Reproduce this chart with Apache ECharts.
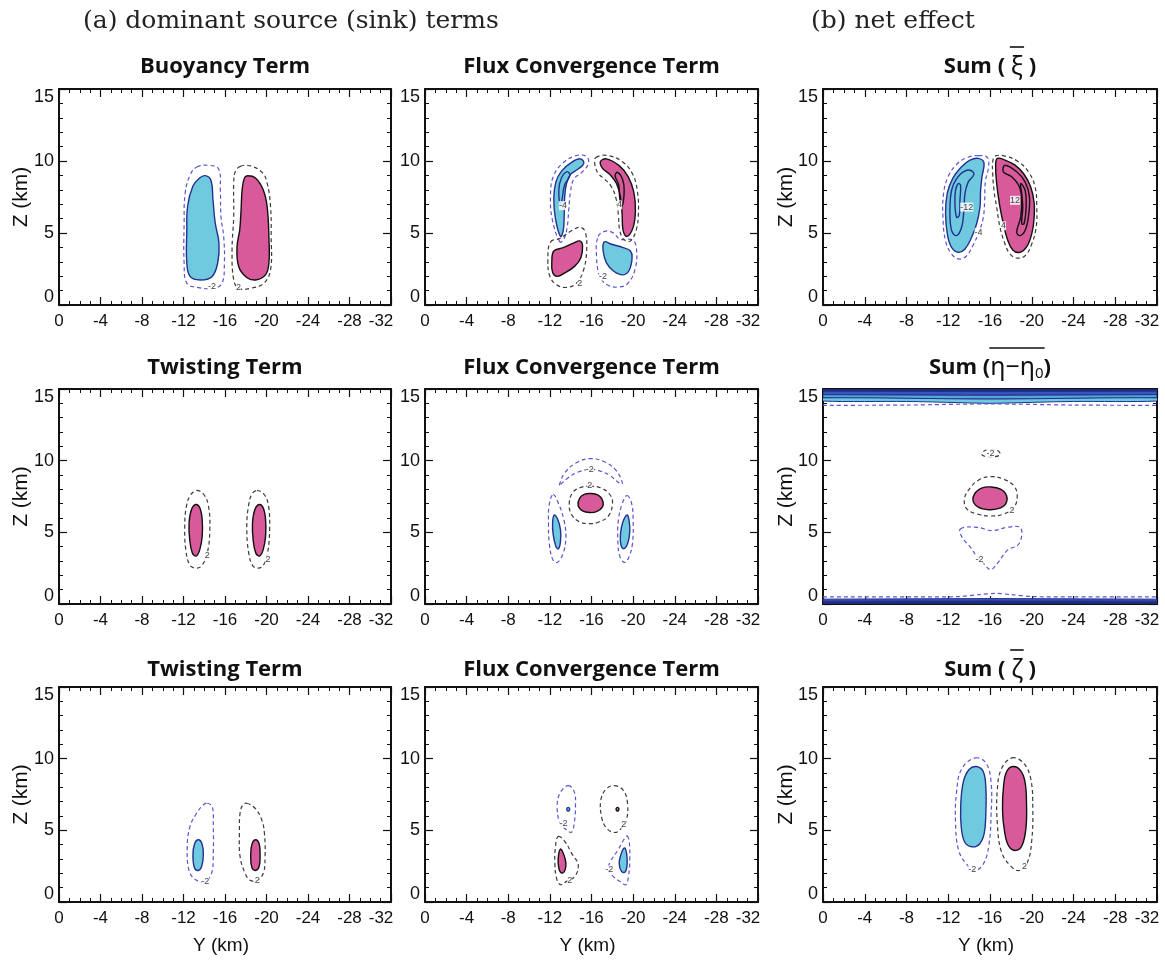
<!DOCTYPE html>
<html>
<head>
<meta charset="utf-8">
<script src="https://cdn.jsdelivr.net/npm/echarts@6/dist/echarts.min.js"></script>
<style>
html, body { margin: 0; padding: 0; background: #fff; }
#main { width: 1165px; height: 963px; }
</style>
</head>
<body>
<div id="main"></div>
<script>
// ---- axes -------------------------------------------------------------
const yKmMin = -32, yKmMax = 0, yKmStep = 4;   // horizontal axis (Y, km)
const zKmMin = 0, zKmMax = 15, zKmStep = 5;    // vertical axis (Z, km)

// ---- panel titles -----------------------------------------------------
const plainTitles = ['Buoyancy Term', 'Flux Convergence Term', 'Twisting Term',
                     'Flux Convergence Term', 'Twisting Term', 'Flux Convergence Term'];
const headerLeft = '(a) dominant source (sink) terms';
const headerRight = '(b) net effect';

// ---- contour outlines, [Y km, Z km] ------------------------------------
// Buoyancy term
const a1NegFill = [[-14.1,8.98],[-14.65,8.65],[-14.84,7.31],[-15.06,5.68],[-15.42,4.29],[-15.29,2.9],[-14.74,1.97],[-13.61,1.74],[-12.65,1.97],[-12.32,2.9],[-12.32,5.22],[-12.39,6.84],[-12.9,8.24],[-13.55,8.82]];
const a1NegDash = [[-13.29,9.58],[-14.42,9.7],[-15.39,9.44],[-15.55,8.0],[-15.61,6.15],[-15.87,4.76],[-15.94,2.9],[-15.71,1.51],[-14.9,1.16],[-13.29,1.23],[-12.32,1.51],[-12.06,2.9],[-12.06,5.68],[-12.16,7.77],[-12.65,9.05]];
const a1PosFill = [[-18.19,8.98],[-18.94,8.82],[-19.68,8.0],[-20.06,6.84],[-20.23,4.76],[-20.23,2.9],[-19.9,2.09],[-18.94,1.74],[-18.06,1.93],[-17.32,2.67],[-17.16,4.06],[-17.42,5.22],[-17.55,6.61],[-17.65,8.0],[-17.87,8.82]];
const a1PosDash = [[-17.48,9.63],[-18.39,9.67],[-19.58,9.21],[-20.06,8.47],[-20.39,6.84],[-20.45,4.76],[-20.39,2.44],[-19.74,1.51],[-18.45,1.16],[-17.32,1.16],[-16.84,1.74],[-16.68,3.83],[-16.84,6.15],[-16.84,8.47],[-17.0,9.28]];
const a1Labels = [[-14.74,1.25,'-2'],[-17.3,1.2,'2']];

// Flux convergence term (top row)
const a2NegUpFill = [[-13.02,4.76],[-12.54,5.98],[-12.38,7.38],[-12.58,8.55],[-13.12,9.3],[-14.08,9.91],[-14.94,10.15],[-15.26,9.84],[-14.72,9.44],[-13.98,9.07],[-13.6,8.44],[-13.41,7.38],[-13.38,6.21],[-13.28,5.16]];
const a2NegUpCore = [[-13.02,6.91],[-12.86,7.97],[-13.09,8.79],[-13.66,9.26],[-13.92,8.98],[-13.41,8.32],[-13.18,7.38]];
const a2NegUpDash = [[-12.96,4.38],[-12.22,5.98],[-12.06,7.62],[-12.32,8.91],[-13.22,9.84],[-14.56,10.38],[-15.52,10.31],[-15.71,9.84],[-15.14,9.26],[-14.3,8.74],[-13.98,7.85],[-13.82,6.68],[-13.66,5.39],[-13.34,4.57]];
const a2PosUpFill = [[-16.86,9.96],[-17.44,10.15],[-18.66,9.68],[-19.52,8.91],[-20.06,7.85],[-20.22,6.56],[-20.0,5.39],[-19.42,4.76],[-19.04,5.16],[-18.94,6.33],[-18.78,7.5],[-18.4,8.44],[-17.76,9.07],[-17.06,9.49]];
const a2PosUpCore = [[-18.94,6.87],[-19.14,7.97],[-18.98,8.74],[-18.5,9.21],[-18.27,8.98],[-18.62,8.32],[-18.72,7.38]];
const a2PosUpDash = [[-16.42,10.24],[-17.6,10.38],[-19.04,9.91],[-20.0,9.02],[-20.42,7.85],[-20.51,6.44],[-20.32,5.27],[-19.74,4.45],[-19.14,4.52],[-18.72,5.16],[-18.59,6.21],[-18.4,7.27],[-17.92,8.2],[-17.18,8.79],[-16.64,9.14],[-16.32,9.77]];
const a2PosLowFill = [[-12.38,3.75],[-13.28,3.98],[-14.24,4.29],[-14.88,4.45],[-15.14,4.1],[-14.98,3.28],[-14.4,2.7],[-13.44,2.23],[-12.7,1.99],[-12.26,2.27],[-12.19,3.05]];
const a2PosLowDash = [[-12.06,4.38],[-12.96,4.62],[-14.08,5.16],[-14.94,5.39],[-15.42,5.04],[-15.52,3.63],[-15.2,2.34],[-14.56,1.52],[-13.6,1.22],[-12.64,1.41],[-12.0,1.99],[-11.81,3.16]];
const a2NegLowFill = [[-17.22,4.38],[-17.92,4.22],[-19.04,3.98],[-19.74,3.75],[-19.9,3.28],[-19.62,2.41],[-19.04,2.09],[-18.14,2.34],[-17.44,2.93],[-17.12,3.75]];
const a2NegLowDash = [[-16.64,4.76],[-17.38,5.13],[-18.14,4.99],[-18.72,4.57],[-19.94,4.52],[-20.32,3.91],[-20.22,2.58],[-19.52,1.52],[-18.56,1.24],[-17.5,1.41],[-16.8,1.99],[-16.48,3.4]];
const a2Labels = [[-13.25,6.9,'-4'],[-18.7,6.95,'4'],[-14.88,1.5,'2'],[-17.1,2.0,'-2']];

// Sum of xi tendencies
const b1NegFill = [[-14.88,10.18],[-15.42,9.88],[-15.23,8.9],[-15.1,7.97],[-15.04,6.8],[-14.72,5.64],[-14.24,4.71],[-13.6,3.89],[-12.96,3.66],[-12.32,4.01],[-11.94,4.82],[-11.74,6.34],[-11.9,7.73],[-12.42,8.78],[-13.28,9.6],[-14.08,10.06]];
const b1NegC8 = [[-14.08,9.36],[-14.46,9.08],[-13.92,8.55],[-13.6,7.73],[-13.5,6.57],[-13.28,5.4],[-12.8,4.82],[-12.32,5.17],[-12.16,6.57],[-12.32,7.97],[-12.8,8.78],[-13.44,9.25]];
const b1NegC12 = [[-12.96,8.43],[-13.18,8.32],[-13.12,7.27],[-13.06,6.22],[-12.8,6.1],[-12.64,7.04],[-12.7,7.97]];
const b1NegDash = [[-14.88,10.37],[-15.74,10.25],[-15.87,9.64],[-15.55,8.55],[-15.49,7.27],[-15.36,6.1],[-14.98,5.12],[-14.4,4.19],[-13.76,3.42],[-13.06,3.19],[-12.32,3.54],[-11.74,4.47],[-11.49,6.1],[-11.55,7.73],[-12.0,8.94],[-12.8,9.76],[-13.82,10.25]];
const b1PosFill = [[-16.7,10.18],[-17.44,10.06],[-18.4,9.71],[-19.26,9.08],[-19.9,8.2],[-20.22,7.15],[-20.22,5.99],[-20.0,4.94],[-19.52,4.05],[-18.88,3.66],[-18.18,3.82],[-17.66,4.59],[-17.28,5.64],[-16.9,7.03],[-16.64,8.43],[-16.54,9.71]];
const b1PosC8 = [[-17.44,9.71],[-18.56,9.25],[-19.36,8.55],[-19.78,7.5],[-19.68,6.1],[-19.36,5.17],[-18.88,4.82],[-18.56,5.05],[-18.94,6.1],[-19.04,7.27],[-18.82,8.2],[-18.08,8.9],[-17.28,9.25]];
const b1PosC12 = [[-18.94,8.43],[-19.36,7.97],[-19.46,6.8],[-19.26,5.64],[-19.04,5.64],[-19.14,6.8],[-19.04,7.73]];
const b1PosDash = [[-16.48,10.34],[-17.44,10.34],[-18.72,9.95],[-19.68,9.25],[-20.32,8.2],[-20.48,6.8],[-20.42,5.4],[-20.0,4.24],[-19.36,3.42],[-18.62,3.26],[-17.92,3.54],[-17.44,4.24],[-16.96,5.4],[-16.64,6.8],[-16.38,7.97],[-16.26,9.13],[-16.26,9.95]];
const b1Labels = [[-13.78,6.8,'-12'],[-14.9,5.05,'-4'],[-18.4,7.27,'12'],[-17.3,5.5,'4']];

// Twisting term (middle row)
const a3PosFillL = [[-13.19,6.94],[-13.57,6.71],[-13.8,5.89],[-13.8,4.72],[-13.57,3.79],[-13.25,3.36],[-12.86,3.55],[-12.6,4.49],[-12.54,5.65],[-12.77,6.59]];
const a3PosDashL = [[-13.25,7.92],[-13.96,7.64],[-14.41,6.82],[-14.54,5.19],[-14.29,3.55],[-13.74,2.66],[-13.19,2.5],[-12.6,2.73],[-12.22,3.79],[-12.12,5.42],[-12.28,6.82],[-12.67,7.59]];
const a3PosFillR = [[-19.3,6.94],[-19.68,6.71],[-19.91,5.89],[-19.91,4.72],[-19.68,3.79],[-19.36,3.36],[-18.97,3.55],[-18.71,4.49],[-18.65,5.65],[-18.88,6.59]];
const a3PosDashR = [[-19.07,7.92],[-19.78,7.64],[-20.2,6.82],[-20.3,5.19],[-20.1,3.55],[-19.72,2.73],[-19.23,2.5],[-18.68,2.66],[-18.26,3.67],[-18.1,5.42],[-18.26,6.82],[-18.58,7.64]];
const a3Labels = [[-14.3,3.35,'2'],[-20.15,3.1,'2']];

// Flux convergence term (middle row)
const a4PosFill = [[-15.9,7.71],[-16.64,7.59],[-17.06,7.24],[-17.06,6.78],[-16.48,6.45],[-15.84,6.38],[-15.14,6.5],[-14.72,6.87],[-14.88,7.41],[-15.36,7.66]];
const a4PosDash = [[-15.84,8.22],[-16.96,8.08],[-17.76,7.64],[-18.02,7.01],[-17.6,6.12],[-16.64,5.7],[-15.84,5.61],[-14.88,5.72],[-14.08,6.24],[-13.86,7.01],[-14.18,7.76],[-14.88,8.11]];
const a4NegArc = [[-12.9,8.29],[-13.44,9.16],[-14.56,9.86],[-15.84,10.14],[-17.28,9.91],[-18.4,9.28],[-18.98,8.41],[-18.72,8.41],[-17.76,8.97],[-16.64,9.32],[-15.84,9.39],[-14.72,9.21],[-13.76,8.81],[-13.02,8.34]];
const a4NegFillL = [[-12.42,6.21],[-12.74,5.93],[-13.02,5.19],[-13.02,4.37],[-12.83,3.86],[-12.58,4.02],[-12.32,4.84],[-12.26,5.65]];
const a4NegDashL = [[-12.32,7.64],[-12.8,7.06],[-13.34,5.89],[-13.54,4.72],[-13.28,3.55],[-12.7,2.9],[-12.26,3.13],[-11.94,4.25],[-11.87,5.65],[-11.94,6.94]];
const a4NegFillR = [[-19.42,6.21],[-19.62,5.77],[-19.68,5.07],[-19.49,4.25],[-19.1,3.86],[-18.82,4.14],[-18.78,4.84],[-18.98,5.65]];
const a4NegDashR = [[-19.42,7.57],[-19.84,7.06],[-20.0,5.89],[-19.94,4.25],[-19.62,3.32],[-19.2,2.9],[-18.72,3.32],[-18.53,4.49],[-18.59,5.89],[-18.98,7.06]];
const a4Labels = [[-15.84,9.38,'-2'],[-15.84,8.24,'2']];

// Sum of eta - eta0 tendencies: bands along the top and bottom boundaries
const b2TopNavy = [[0,15],[-32,15],[-32,14.84],[-16,14.82],[0,14.84]];
const b2TopBlue = [[0,14.84],[-16,14.82],[-32,14.84],[-32,14.6],[-16,14.56],[0,14.6]];
const b2TopSky = [[0,14.6],[-16,14.56],[-32,14.6],[-32,14.38],[-16,14.3],[0,14.38]];
const b2TopCyan = [[0,14.38],[-16,14.3],[-32,14.38],[-32,14.16],[-24,14.13],[-19,14.05],[-16,14.0],[-13,14.05],[-8,14.13],[0,14.16]];
const b2TopDash = [[0,13.86],[-8,13.88],[-16,13.96],[-24,13.88],[-32,13.86]];
const b2BotNavy = [[0,0],[-32,0],[-32,0.2],[-16,0.22],[0,0.2]];
const b2BotBlue = [[0,0.2],[-16,0.22],[-32,0.2],[-32,0.34],[-16,0.38],[0,0.34]];
const b2BotDash = [[0,0.5],[-10,0.5],[-13,0.52],[-15,0.66],[-16.5,0.74],[-18,0.66],[-20,0.52],[-24,0.5],[-32,0.5]];
const b2PosFill = [[-16.05,8.17],[-17.01,8.01],[-17.59,7.55],[-17.49,6.97],[-16.85,6.67],[-15.89,6.58],[-14.92,6.74],[-14.38,7.2],[-14.61,7.78],[-15.25,8.1]];
const b2PosDash = [[-16.05,8.89],[-17.33,8.7],[-18.29,8.24],[-18.61,7.55],[-18.29,6.74],[-17.33,6.28],[-16.05,6.14],[-14.77,6.28],[-13.8,6.62],[-13.54,7.32],[-14.12,8.12],[-14.92,8.65]];
const b2PosRing = [[-15.4,10.66],[-16.05,10.78],[-16.82,10.66],[-16.95,10.39],[-16.05,10.27],[-15.25,10.39]];
const b2NegDash = [[-13.16,5.24],[-14.76,5.35],[-16.21,5.12],[-17.65,5.35],[-18.93,5.31],[-18.77,4.2],[-17.65,3.74],[-16.69,2.82],[-16.05,2.4],[-15.4,2.82],[-14.76,3.28],[-14.12,3.97],[-13.32,4.66]];
const b2Labels = [[-16.05,10.52,'-2'],[-18.1,6.55,'2'],[-15.0,3.1,'-2']];

// Twisting term (bottom row)
const a5NegFill = [[-13.43,4.34],[-13.78,4.06],[-13.91,3.29],[-13.75,2.48],[-13.39,2.2],[-13.04,2.43],[-12.91,3.29],[-13.07,4.06]];
const a5NegDash = [[-14.29,6.89],[-14.78,6.65],[-14.87,5.26],[-14.87,3.41],[-14.71,2.02],[-14.07,1.44],[-13.26,1.51],[-12.56,2.13],[-12.36,3.87],[-12.62,5.26],[-13.26,6.19],[-13.91,6.77]];
const a5PosFill = [[-18.96,4.34],[-19.29,4.06],[-19.38,3.29],[-19.29,2.48],[-18.93,2.2],[-18.58,2.43],[-18.48,3.29],[-18.61,4.06]];
const a5PosDash = [[-18.09,6.89],[-18.9,6.54],[-19.54,5.73],[-19.8,4.8],[-19.86,3.18],[-19.7,2.02],[-19.12,1.51],[-18.42,1.51],[-17.93,2.02],[-17.45,3.18],[-17.39,4.8],[-17.45,6.19],[-17.71,6.77]];
const a5Labels = [[-14.1,1.46,'-2'],[-19.1,1.5,'2']];

// Flux convergence term (bottom row)
const a6NegDashUp = [[-13.76,8.12],[-14.34,7.7],[-14.46,6.65],[-14.34,5.5],[-14.08,4.87],[-13.6,5.03],[-12.96,5.54],[-12.7,6.65],[-12.96,7.58]];
const a6NegDot = [[-13.76,6.6],[-13.9,6.47],[-13.76,6.34],[-13.62,6.47]];
const a6PosDashUp = [[-18.18,8.12],[-19.04,7.81],[-19.46,6.89],[-19.36,5.73],[-18.88,5.15],[-18.24,4.85],[-17.44,5.15],[-16.96,5.96],[-16.9,7.12],[-17.38,7.86]];
const a6PosDot = [[-18.5,6.6],[-18.64,6.47],[-18.5,6.34],[-18.36,6.47]];
const a6PosFill = [[-13.02,3.69],[-13.34,3.29],[-13.54,2.71],[-13.44,2.2],[-13.12,2.02],[-12.86,2.36],[-12.8,3.06]];
const a6PosDash = [[-12.8,4.57],[-13.44,4.22],[-14.08,3.41],[-14.72,2.6],[-14.4,1.79],[-13.6,1.44],[-13.02,1.21],[-12.64,1.67],[-12.48,2.71],[-12.54,3.87]];
const a6NegFill = [[-19.23,3.76],[-19.39,3.29],[-19.42,2.6],[-19.23,2.09],[-18.88,2.13],[-18.66,2.71],[-18.82,3.29],[-19.04,3.69]];
const a6NegDash = [[-19.42,4.61],[-19.62,4.22],[-19.68,2.94],[-19.55,1.79],[-19.3,1.21],[-18.72,1.44],[-18.08,1.79],[-17.6,2.25],[-17.82,2.83],[-18.56,3.64],[-19.1,4.34]];
const a6Labels = [[-13.3,5.5,'-2'],[-19.1,5.4,'2'],[-13.9,1.5,'2'],[-17.7,2.25,'-2']];

// Sum of zeta tendencies
const b3NegFill = [[-14.7,9.45],[-15.35,9.1],[-15.6,8.0],[-15.6,6.2],[-15.45,4.8],[-15.0,4.05],[-14.3,3.85],[-13.6,4.15],[-13.25,5.2],[-13.2,6.8],[-13.45,8.4],[-14.0,9.25]];
const b3NegDash = [[-14.6,10.05],[-15.6,9.7],[-16.1,8.4],[-16.1,6.0],[-15.9,4.0],[-15.4,2.7],[-14.6,2.2],[-13.8,2.6],[-13.0,3.6],[-12.7,5.5],[-12.8,7.7],[-13.3,9.3]];
const b3PosFill = [[-18.2,9.45],[-18.9,9.2],[-19.35,8.4],[-19.5,6.8],[-19.45,5.2],[-19.1,4.0],[-18.5,3.6],[-17.8,3.9],[-17.4,4.9],[-17.2,6.4],[-17.3,8.1],[-17.6,9.1]];
const b3PosDash = [[-18.1,10.05],[-19.2,9.7],[-19.9,8.6],[-20.1,6.5],[-20.0,4.3],[-19.6,2.8],[-18.8,2.2],[-18.0,2.5],[-17.1,3.5],[-16.7,5.5],[-16.7,7.8],[-17.1,9.3]];
const b3Labels = [[-14.3,2.3,'-2'],[-19.3,2.5,'2']];

// ---- styles -----------------------------------------------------------
const CYAN = '#6fcae0', MAGENTA = '#d85a9b', NAVY = '#23318f', INK = '#111';
const DASH_NEG = '#5a55d2', DASH_POS = '#3b3b3b';
const STYLE = {
  negFill: { fill: CYAN, stroke: NAVY, lineWidth: 1.4 },
  posFill: { fill: MAGENTA, stroke: INK, lineWidth: 1.4 },
  negLine: { fill: null, stroke: NAVY, lineWidth: 1.4 },
  posLine: { fill: null, stroke: INK, lineWidth: 1.4 },
  negDash: { fill: null, stroke: DASH_NEG, lineWidth: 1.2, lineDash: [4, 3] },
  posDash: { fill: null, stroke: DASH_POS, lineWidth: 1.2, lineDash: [4, 3] },
  bandNavy: { fill: '#1d2b7c', stroke: '#1d2b7c', lineWidth: 0.8 },
  bandBlue: { fill: '#3656bb', stroke: '#22318f', lineWidth: 1 },
  bandSky: { fill: '#56a6dc', stroke: '#22318f', lineWidth: 1 },
  bandCyan: { fill: CYAN, stroke: '#22318f', lineWidth: 1 }
};

function shapes(list, kind, extra) {
  return list.map(pts => Object.assign({ kind: kind, pts: pts }, extra || {}));
}
function labels(list) {
  return list.map(l => ({ kind: 'label', at: [l[0], l[1]], text: l[2] }));
}

// ---- layout -----------------------------------------------------------
const colBox = [{ left: 59, width: 332 }, { left: 425, width: 333 }, { left: 823, width: 334 }];
const rowBox = [{ top: 89, height: 216 }, { top: 389, height: 215 }, { top: 687, height: 215 }];
const titleY = [67, 368, 670];

const panels = [
  { col: 0, row: 0, title: plainTitles[0], items: [].concat(
      shapes([a1NegFill], 'negFill'), shapes([a1PosFill], 'posFill'),
      shapes([a1NegDash], 'negDash'), shapes([a1PosDash], 'posDash'), labels(a1Labels)) },
  { col: 1, row: 0, title: plainTitles[1], items: [].concat(
      shapes([a2NegUpFill, a2NegLowFill], 'negFill'), shapes([a2PosUpFill, a2PosLowFill], 'posFill'),
      shapes([a2NegUpCore], 'negLine'), shapes([a2PosUpCore], 'posLine'),
      shapes([a2NegUpDash, a2NegLowDash], 'negDash'), shapes([a2PosUpDash, a2PosLowDash], 'posDash'),
      labels(a2Labels)) },
  { col: 2, row: 0, title: null, items: [].concat(
      shapes([b1NegFill], 'negFill'), shapes([b1PosFill], 'posFill'),
      shapes([b1NegC8, b1NegC12], 'negLine'), shapes([b1PosC8, b1PosC12], 'posLine'),
      shapes([b1NegDash], 'negDash'), shapes([b1PosDash], 'posDash'), labels(b1Labels)) },
  { col: 0, row: 1, title: plainTitles[2], items: [].concat(
      shapes([a3PosFillL, a3PosFillR], 'posFill'), shapes([a3PosDashL, a3PosDashR], 'posDash'),
      labels(a3Labels)) },
  { col: 1, row: 1, title: plainTitles[3], items: [].concat(
      shapes([a4NegFillL, a4NegFillR], 'negFill'), shapes([a4PosFill], 'posFill'),
      shapes([a4NegArc, a4NegDashL, a4NegDashR], 'negDash'), shapes([a4PosDash], 'posDash'),
      labels(a4Labels)) },
  { col: 2, row: 1, title: null, items: [].concat(
      shapes([b2TopNavy], 'bandNavy', { smooth: 0 }), shapes([b2TopBlue], 'bandBlue', { smooth: 0 }),
      shapes([b2TopSky], 'bandSky', { smooth: 0 }), shapes([b2TopCyan], 'bandCyan', { smooth: 0.3 }),
      shapes([b2BotNavy], 'bandNavy', { smooth: 0 }), shapes([b2BotBlue], 'bandBlue', { smooth: 0 }),
      shapes([b2TopDash, b2BotDash], 'negDash', { open: true, smooth: 0.3 }),
      shapes([b2PosFill], 'posFill'), shapes([b2PosDash, b2PosRing], 'posDash'),
      shapes([b2NegDash], 'negDash'), labels(b2Labels)) },
  { col: 0, row: 2, title: plainTitles[4], items: [].concat(
      shapes([a5NegFill], 'negFill'), shapes([a5PosFill], 'posFill'),
      shapes([a5NegDash], 'negDash'), shapes([a5PosDash], 'posDash'), labels(a5Labels)) },
  { col: 1, row: 2, title: plainTitles[5], items: [].concat(
      shapes([a6NegFill, a6NegDot], 'negFill'), shapes([a6PosFill, a6PosDot], 'posFill'),
      shapes([a6NegDashUp, a6NegDash], 'negDash'), shapes([a6PosDashUp, a6PosDash], 'posDash'),
      labels(a6Labels)) },
  { col: 2, row: 2, title: null, items: [].concat(
      shapes([b3NegFill], 'negFill'), shapes([b3PosFill], 'posFill'),
      shapes([b3NegDash], 'negDash'), shapes([b3PosDash], 'posDash'), labels(b3Labels)) }
];

// ---- fonts ------------------------------------------------------------
const TICK_FONT = "'Liberation Sans Narrow', 'Liberation Sans', Lato, sans-serif";
const TITLE_FONT = "'Open Sans', Lato, sans-serif";
const HEAD_FONT = "'DejaVu Serif', serif";
const GREEK_FONT = "'Noto Sans', 'DejaVu Sans', sans-serif";

// ---- build option ----------------------------------------------------
const grids = [], xAxes = [], yAxes = [], series = [], graphics = [];

const lineStyle = { color: INK, width: 2 };
const tickStyle = { color: INK, width: 1.2 };

panels.forEach((p, gi) => {
  const c = colBox[p.col], r = rowBox[p.row];
  grids.push({ left: c.left, top: r.top, width: c.width, height: r.height, containLabel: false });
  ['bottom', 'top'].forEach(pos => {
    xAxes.push({
      gridIndex: gi, type: 'value', position: pos, min: yKmMin, max: yKmMax, interval: yKmStep,
      inverse: true,
      axisLine: { show: true, onZero: false, lineStyle: lineStyle },
      axisTick: { show: true, inside: true, length: 8, lineStyle: tickStyle },
      minorTick: { show: true, splitNumber: 4, length: 4, lineStyle: { color: INK, width: 1 } },
      splitLine: { show: false },
      axisLabel: {
        show: pos === 'bottom', margin: 8, color: INK, fontFamily: TICK_FONT, fontSize: 17,
        formatter: v => (v === yKmMin ? '{r|' + v + '}' : '{c|' + v + '}'),
        rich: {
          c: { fontFamily: TICK_FONT, fontSize: 17, color: INK },
          r: { fontFamily: TICK_FONT, fontSize: 17, color: INK, padding: [0, 20, 0, 0] }
        }
      }
    });
  });
  ['left', 'right'].forEach(pos => {
    yAxes.push({
      gridIndex: gi, type: 'value', position: pos, min: zKmMin, max: zKmMax, interval: zKmStep,
      axisLine: { show: true, onZero: false, lineStyle: lineStyle },
      axisTick: { show: true, inside: true, length: 8, lineStyle: tickStyle },
      minorTick: { show: true, splitNumber: 5, length: 4, lineStyle: { color: INK, width: 1 } },
      splitLine: { show: false },
      axisLabel: {
        show: pos === 'left', margin: 5, color: INK, fontFamily: TICK_FONT, fontSize: 18,
        formatter: v => (v === zKmMin ? '{b|' + v + '}' : v === zKmMax ? '{t|' + v + '}' : '{c|' + v + '}'),
        rich: {
          c: { fontFamily: TICK_FONT, fontSize: 18, color: INK },
          b: { fontFamily: TICK_FONT, fontSize: 18, color: INK, padding: [0, 0, 15, 0] },
          t: { fontFamily: TICK_FONT, fontSize: 18, color: INK, padding: [17, 0, 0, 0] }
        }
      }
    });
  });

  const items = p.items;
  series.push({
    type: 'custom', coordinateSystem: 'cartesian2d',
    xAxisIndex: gi * 2, yAxisIndex: gi * 2, clip: true, silent: true, animation: false,
    data: items.map(it => (it.pts ? it.pts[0] : it.at)),
    renderItem: function (params, api) {
      const it = items[params.dataIndex];
      if (it.kind === 'label') {
        const q = api.coord(it.at);
        return {
          type: 'text', x: q[0], y: q[1],
          style: { text: it.text, fontSize: 9, fontFamily: TICK_FONT, fill: '#444',
                   align: 'center', verticalAlign: 'middle', backgroundColor: 'rgba(255,255,255,0.85)' }
        };
      }
      const pts = it.pts.map(q => api.coord(q));
      const s = STYLE[it.kind];
      return {
        type: it.open ? 'polyline' : 'polygon',
        shape: { points: pts, smooth: it.smooth == null ? 0.4 : it.smooth },
        style: Object.assign({}, s)
      };
    }
  });

  const cx = c.left + c.width / 2;
  if (p.title) {
    graphics.push({
      type: 'text', x: cx, y: titleY[p.row],
      style: { text: p.title, font: 'bold 22px ' + TITLE_FONT, fill: INK, align: 'center', verticalAlign: 'middle' }
    });
  }
  if (p.col !== 1) {
    graphics.push({
      type: 'text', x: p.col === 0 ? 21 : 786, y: r.top + r.height / 2, rotation: Math.PI / 2,
      style: { text: 'Z (km)', font: '21px ' + TICK_FONT, fill: INK, align: 'center', verticalAlign: 'middle' }
    });
  }
  if (p.row === 2) {
    graphics.push({
      type: 'text', x: cx - 4, y: 946,
      style: { text: 'Y (km)', font: '19px ' + TICK_FONT, fill: INK, align: 'center', verticalAlign: 'middle' }
    });
  }
});

// titles of the net-effect column, with an overbar on the averaged quantity
const measure = (() => {
  const ctx = document.createElement('canvas').getContext('2d');
  return (text, font) => { ctx.font = font; return ctx.measureText(text).width; };
})();
const BOLD = 'bold 22px ' + TITLE_FONT;
const GREEK = '25px ' + GREEK_FONT;
const SUB = '15px ' + GREEK_FONT;
const sumTitles = [
  { row: 0, pieces: [{ t: 'Sum ( ', f: BOLD }, { t: 'ξ', f: GREEK, bar: true }, { t: ' )', f: BOLD }] },
  { row: 1, pieces: [{ t: 'Sum (', f: BOLD }, { t: 'η−η', f: GREEK, bar: true }, { t: '0', f: SUB, dy: 6, bar: true }, { t: ')', f: BOLD }] },
  { row: 2, pieces: [{ t: 'Sum ( ', f: BOLD }, { t: 'ζ', f: GREEK, bar: true }, { t: ' )', f: BOLD }] }
];
sumTitles.forEach(st => {
  const cx = colBox[2].left + colBox[2].width / 2;
  const cy = titleY[st.row];
  const widths = st.pieces.map(pc => measure(pc.t, pc.f));
  const total = widths.reduce((a, b) => a + b, 0);
  let x = cx - total / 2;
  let barStart = null, barEnd = null;
  st.pieces.forEach((pc, k) => {
    graphics.push({
      type: 'text', x: x, y: cy + (pc.dy || 0),
      style: { text: pc.t, font: pc.f, fill: INK, align: 'left', verticalAlign: 'middle' }
    });
    if (pc.bar) {
      if (barStart === null) barStart = x;
      barEnd = x + widths[k];
    }
    x += widths[k];
  });
  graphics.push({
    type: 'line', shape: { x1: barStart - 1, y1: cy - 20, x2: barEnd + 1, y2: cy - 20 },
    style: { stroke: INK, lineWidth: 1.6 }
  });
});

graphics.push({ type: 'text', x: 83, y: 21, style: { text: headerLeft, font: '25px ' + HEAD_FONT, fill: '#222', align: 'left', verticalAlign: 'middle' } });
graphics.push({ type: 'text', x: 811, y: 21, style: { text: headerRight, font: '25px ' + HEAD_FONT, fill: '#222', align: 'left', verticalAlign: 'middle' } });

const chart = echarts.init(document.getElementById('main'), null, { renderer: 'canvas' });
chart.setOption({
  backgroundColor: '#fff',
  animation: false,
  grid: grids,
  xAxis: xAxes,
  yAxis: yAxes,
  series: series,
  graphic: graphics
});
</script>
</body>
</html>
